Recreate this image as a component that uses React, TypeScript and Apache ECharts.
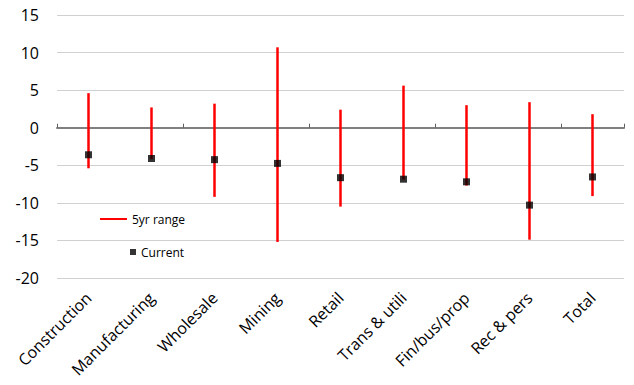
import React, { useEffect, useRef } from "react";
import * as echarts from "echarts";

const categories = [
  "Construction",
  "Manufacturing",
  "Wholesale",
  "Mining",
  "Retail",
  "Trans & utili",
  "Fin/bus/prop",
  "Rec & pers",
  "Total",
];

// 5-year range: low and high per sector
const rangeLow = [-5.4, -4.2, -9.2, -15.2, -10.5, -6.9, -7.7, -14.9, -9.1];
const rangeHigh = [4.6, 2.7, 3.2, 10.7, 2.4, 5.6, 3.0, 3.4, 1.8];

// Current reading per sector
const current = [-3.6, -4.1, -4.25, -4.75, -6.65, -6.85, -7.2, -10.3, -6.55];

const yTicks = { min: -20, max: 15, interval: 5 };

const FONT = "'Open Sans', 'Noto Sans', sans-serif";

export default function App() {
  const ref = useRef<HTMLDivElement>(null);

  useEffect(() => {
    if (!ref.current) return;
    const chart = echarts.init(ref.current, null, { renderer: "svg" });

    const rangeData = categories.map((_, i) => [i, rangeLow[i], rangeHigh[i]]);
    const currentData = categories.map((_, i) => [i, current[i]]);

    chart.setOption({
      animation: false,
      textStyle: { fontFamily: FONT },
      grid: { left: 57, right: 10, top: 15, bottom: 107, containLabel: false },
      legend: [
        {
          data: [{ name: "5yr range", icon: "rect" }],
          left: 100,
          top: 213,
          padding: 0,
          itemWidth: 27,
          itemHeight: 2,
          itemGap: 0,
          textStyle: { fontSize: 12, color: "#000", fontFamily: FONT },
        },
        {
          data: [{ name: "Current", icon: "rect" }],
          left: 130,
          top: 246,
          padding: 0,
          itemWidth: 6,
          itemHeight: 6,
          itemGap: 0,
          textStyle: { fontSize: 12, color: "#000", fontFamily: FONT },
        },
      ],
      xAxis: [
        {
          type: "category",
          data: categories,
          position: "bottom",
          axisLine: { onZero: true, lineStyle: { color: "#808080", width: 2 } },
          axisTick: { show: true, inside: true, length: 4, lineStyle: { color: "#606060", width: 1 } },
          axisLabel: { show: false },
          splitLine: { show: false },
        },
        {
          type: "category",
          data: categories,
          position: "bottom",
          axisLine: { show: false, onZero: false },
          axisTick: { show: false },
          axisLabel: {
            rotate: 45,
            margin: 17,
            fontSize: 16,
            color: "#000",
            fontFamily: FONT,
            interval: 0,
          },
          splitLine: { show: false },
        },
      ],
      yAxis: {
        type: "value",
        min: yTicks.min,
        max: yTicks.max,
        interval: yTicks.interval,
        axisLine: { show: false },
        axisTick: { show: false },
        axisLabel: { fontSize: 16, color: "#000", margin: 18, fontFamily: FONT },
        splitLine: { lineStyle: { color: "#d0d0d0", width: 1 } },
      },
      series: [
        {
          name: "5yr range",
          type: "custom",
          xAxisIndex: 0,
          itemStyle: { color: "#ff0000" },
          encode: { x: 0, y: [1, 2] },
          data: rangeData,
          z: 2,
          renderItem: (params: any, api: any) => {
            const x = api.value(0);
            const p1 = api.coord([x, api.value(1)]);
            const p2 = api.coord([x, api.value(2)]);
            return {
              type: "line",
              shape: { x1: p1[0], y1: p1[1], x2: p2[0], y2: p2[1] },
              style: { stroke: "#ff0000", lineWidth: 2.5 },
            };
          },
        },
        {
          name: "Current",
          type: "scatter",
          xAxisIndex: 0,
          symbol: "rect",
          symbolSize: 7,
          itemStyle: { color: "#000" },
          data: currentData,
          z: 3,
        },
      ],
    });

    return () => chart.dispose();
  }, []);

  return (
    <div
      ref={ref}
      style={{ position: "fixed", left: 0, top: 0, width: 634, height: 385, background: "#fff" }}
    />
  );
}
